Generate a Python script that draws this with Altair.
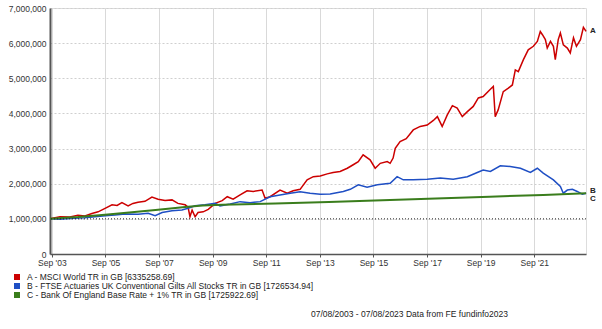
import altair as alt
import pandas as pd

# ---- data (decimal year, value in millions GBP) ----
a_years = [2003.60, 2003.97, 2004.34, 2004.64, 2004.90, 2005.16, 2005.39, 2005.65, 2005.91, 2006.10,
           2006.28, 2006.51, 2006.69, 2006.88, 2007.14, 2007.40, 2007.63, 2007.89, 2008.15, 2008.37,
           2008.64, 2008.75, 2008.82, 2008.90, 2009.01, 2009.12, 2009.31, 2009.50, 2009.76, 2010.02,
           2010.21, 2010.43, 2010.69, 2010.95, 2011.18, 2011.51, 2011.62, 2011.81, 2012.18, 2012.45,
           2012.67, 2012.93, 2013.19, 2013.42, 2013.68, 2013.94, 2014.16, 2014.42, 2014.69, 2014.91,
           2015.10, 2015.28, 2015.54, 2015.73, 2015.92, 2016.18, 2016.29, 2016.40, 2016.48, 2016.66,
           2016.89, 2017.15, 2017.41, 2017.67, 2017.90, 2018.05, 2018.23, 2018.42, 2018.61, 2018.79,
           2018.98, 2019.17, 2019.39, 2019.58, 2019.76, 2020.03, 2020.14, 2020.21, 2020.32, 2020.51,
           2020.70, 2020.85, 2020.96, 2021.07, 2021.26, 2021.44, 2021.63, 2021.78, 2021.89, 2021.97,
           2022.08, 2022.15, 2022.27, 2022.38, 2022.45, 2022.56, 2022.64, 2022.75, 2022.90, 2023.01,
           2023.13, 2023.24, 2023.39, 2023.50, 2023.60]
a_values = [1.00, 1.06, 1.05, 1.10, 1.08, 1.15, 1.20, 1.30, 1.40, 1.38,
            1.46, 1.37, 1.44, 1.47, 1.50, 1.62, 1.56, 1.52, 1.54, 1.44,
            1.40, 1.33, 1.06, 1.25, 1.06, 1.18, 1.20, 1.27, 1.44, 1.52,
            1.63, 1.56, 1.68, 1.80, 1.78, 1.82, 1.59, 1.63, 1.82, 1.73,
            1.80, 1.84, 2.11, 2.20, 2.22, 2.28, 2.32, 2.35, 2.44, 2.54,
            2.63, 2.82, 2.68, 2.44, 2.58, 2.63, 2.58, 2.73, 3.01, 3.20,
            3.28, 3.53, 3.63, 3.67, 3.80, 3.91, 3.63, 3.96, 4.22, 4.15,
            3.91, 4.05, 4.20, 4.44, 4.48, 4.69, 4.77, 3.91, 4.10, 4.62,
            4.72, 4.81, 5.24, 5.19, 5.53, 5.81, 5.91, 6.05, 6.33, 6.24,
            6.10, 5.86, 6.05, 5.91, 5.53, 6.10, 6.29, 5.95, 5.86, 5.72,
            6.15, 5.91, 6.10, 6.45, 6.335]

b_years = [2003.60, 2003.97, 2004.34, 2004.90, 2005.28, 2005.65, 2006.02, 2006.40, 2006.88, 2007.26,
           2007.52, 2007.78, 2008.15, 2008.52, 2008.75, 2009.01, 2009.38, 2009.76, 2009.94, 2010.32,
           2010.69, 2011.06, 2011.44, 2011.81, 2012.18, 2012.56, 2012.93, 2013.30, 2013.68, 2014.05,
           2014.54, 2014.80, 2015.10, 2015.43, 2015.81, 2016.29, 2016.55, 2016.78, 2017.15, 2017.67,
           2018.16, 2018.64, 2019.17, 2019.54, 2019.76, 2020.03, 2020.40, 2020.77, 2021.15, 2021.52,
           2021.78, 2022.00, 2022.38, 2022.64, 2022.75, 2022.90, 2023.09, 2023.27, 2023.46, 2023.60]
b_values = [1.00, 0.99, 1.01, 1.03, 1.06, 1.09, 1.11, 1.14, 1.13, 1.16,
            1.09, 1.18, 1.23, 1.25, 1.30, 1.37, 1.40, 1.44, 1.37, 1.42,
            1.49, 1.46, 1.49, 1.63, 1.68, 1.73, 1.77, 1.73, 1.70, 1.71,
            1.78, 1.84, 1.97, 1.90, 1.97, 2.01, 2.20, 2.11, 2.11, 2.13,
            2.16, 2.13, 2.20, 2.32, 2.39, 2.35, 2.51, 2.49, 2.44, 2.32,
            2.44, 2.30, 2.11, 1.92, 1.73, 1.82, 1.84, 1.78, 1.70, 1.7265]

c_years = [2003.60, 2004.64, 2005.65, 2006.65, 2007.63, 2008.64, 2009.30, 2010.02, 2012.00, 2014.00,
           2016.00, 2018.00, 2020.00, 2022.00, 2023.60]
c_values = [1.00, 1.05, 1.12, 1.19, 1.26, 1.34, 1.38, 1.40, 1.44, 1.48,
            1.53, 1.58, 1.63, 1.68, 1.7259]

series_labels = [
    "A - MSCI World TR in GB [6335258.69]",
    "B - FTSE Actuaries UK Conventional Gilts All Stocks TR in GB [1726534.94]",
    "C - Bank Of England Base Rate + 1% TR in GB [1725922.69]",
]
series_letters = ["A", "B", "C"]
series_colors = ["#cc0000", "#1f4fc4", "#3a7d1c"]
y_ticks = [0, 1000000, 2000000, 3000000, 4000000, 5000000, 6000000, 7000000]
x_ticks = ["2003-09-01", "2005-09-01", "2007-09-01", "2009-09-01", "2011-09-01",
           "2013-09-01", "2015-09-01", "2017-09-01", "2019-09-01", "2021-09-01"]
footer = "07/08/2003 - 07/08/2023 Data from FE fundinfo2023"

FONT = "Liberation Sans"


def to_date(y):
    yr = int(y)
    start = pd.Timestamp(year=yr, month=1, day=1)
    return start + pd.Timedelta(days=(y - yr) * 365.25)


rows = []
for yrs, vals, lab, let in [(a_years, a_values, series_labels[0], "A"),
                            (b_years, b_values, series_labels[1], "B"),
                            (c_years, c_values, series_labels[2], "C")]:
    for y, v in zip(yrs, vals):
        rows.append({"date": to_date(y), "value": v * 1e6, "series": lab, "letter": let})
df = pd.DataFrame(rows)

x_scale = alt.Scale(domain=["2003-08-07", "2023-08-07"])
y_scale = alt.Scale(domain=[0, 7000000], nice=False)

x_axis = alt.Axis(values=x_ticks, labelExpr="timeFormat(datum.value, \"%b '%y\")",
                  title=None, grid=True, gridColor="#d9d9d9", gridWidth=1,
                  domainColor="#555555", domainWidth=1.5, tickColor="#555555",
                  tickSize=3, labelFont=FONT, labelFontSize=8.5, labelColor="#333333",
                  labelPadding=1)
y_axis = alt.Axis(values=y_ticks, title=None, grid=True,
                  labelExpr="datum.value == 0 ? '0' : '' + round(datum.value / 1000000) + ',000,000'",
                  gridColor="#cfcfcf", gridDash=[2, 2], gridWidth=1,
                  domainColor="#555555", domainWidth=2, ticks=False,
                  labelFont=FONT, labelFontSize=8.5, labelColor="#333333",
                  labelPadding=4)


def X():
    return alt.X("date:T", scale=x_scale, axis=x_axis)


def Y(axis=True):
    return alt.Y("value:Q", scale=y_scale, axis=y_axis if axis else None)


color_scale = alt.Scale(domain=series_labels, range=series_colors)
color_enc = alt.Color("series:N", scale=color_scale, legend=None)

base = alt.Chart(df)

lines_ab = base.transform_filter(alt.datum.letter != "C").mark_line(
    strokeWidth=1.5).encode(x=X(), y=Y(), color=color_enc, detail="letter:N")
line_c = base.transform_filter(alt.datum.letter == "C").mark_line(
    strokeWidth=2).encode(x=X(), y=Y(False), color=color_enc)

ref_df = pd.DataFrame({"value": [1000000]})
ref_line = alt.Chart(ref_df).mark_rule(color="#222222", strokeDash=[1, 2], strokeWidth=1).encode(
    y=Y(False))

last = df.sort_values("date").groupby("letter").tail(1)
end_layers = []
for let, dy in zip(series_letters, [0, -2, 6]):
    end_layers.append(
        alt.Chart(last[last.letter == let]).mark_text(
            align="left", baseline="middle", dx=4, dy=dy, font=FONT, fontSize=8,
            fontWeight="bold", color="#222222").encode(x=X(), y=Y(False), text="letter:N"))

# manual legend below the plot
leg_df = pd.DataFrame({"series": series_labels, "rank": [0, 1, 2]})
leg_y = alt.Y("rank:O", scale=alt.Scale(domain=[0, 1, 2], range=[269, 287], padding=0),
              axis=None)
leg_sq = alt.Chart(leg_df).mark_square(size=36, filled=True, opacity=1).encode(
    x=alt.value(-33), y=leg_y, color=color_enc)
leg_tx = alt.Chart(leg_df).mark_text(
    align="left", baseline="middle", font=FONT, fontSize=8.5, color="#222222").encode(
    x=alt.value(-23), y=leg_y, text="series:N")

foot = alt.Chart(pd.DataFrame({"t": [footer]})).mark_text(
    align="right", baseline="middle", font=FONT, fontSize=8.5, color="#222222").encode(
    x=alt.value(458), y=alt.value(306), text="t:N")

chart = alt.layer(lines_ab, line_c, ref_line, *end_layers, leg_sq, leg_tx, foot).resolve_scale(
    y="independent"
).properties(
    width=536, height=246,
    padding={"left": 50, "top": 8, "right": 16, "bottom": 75},
    autosize=alt.AutoSizeParams(type="none"),
).configure_view(stroke="#dddddd", strokeWidth=1).configure(background="white")

chart.save("out.html", embed_options={"renderer": "svg", "actions": False})
